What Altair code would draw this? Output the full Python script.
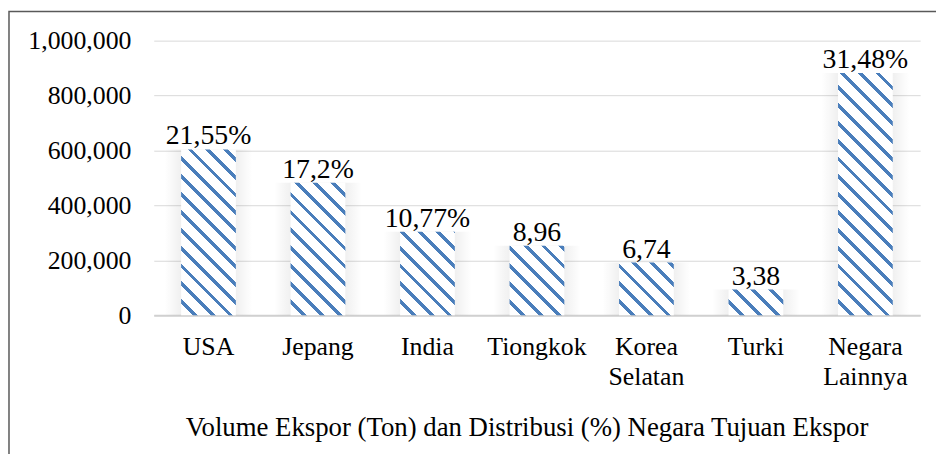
import altair as alt
import pandas as pd

# ---- data ----
countries = ["USA", "Jepang", "India", "Tiongkok", "Korea Selatan", "Turki", "Negara Lainnya"]
volumes = [604000, 483000, 304000, 253000, 192000, 94000, 882000]
labels = ["21,55%", "17,2%", "10,77%", "8,96", "6,74", "3,38", "31,48%"]
y_ticks = [0, 200000, 400000, 600000, 800000, 1000000]
x_title = "Volume Ekspor (Ton) dan Distribusi (%) Negara Tujuan Ekspor"

df = pd.DataFrame({"country": countries, "volume": volumes, "label": labels})

# ---- layout ----
W, H = 773, 277
PAD = {"left": 147, "top": 31, "right": 16, "bottom": 138}
FONT = "Times New Roman, Liberation Serif, serif"
BLUE = "#4a7ebb"
Y_MAX = 1000000

n = len(countries)
step = W / (n - 0.5 + 0.5)
bw = step * 0.5


def stripe_gradient(value):
    """Diagonal hatch as a hard-stop linear gradient in bbox units."""
    h = value / Y_MAX * H
    w = bw
    k = (w + h) / (w * w + h * h)
    x2 = k * w
    y2 = 1 - k * h
    period = 18.0 / (w + h)      # t-period for an 18px axis-aligned repeat
    blue = period * 0.27
    stops = []
    t = -period * 0.35
    while t < 1:
        a = max(t, 0.0)
        b = min(t + blue, 1.0)
        if b > 0:
            stops.append({"offset": a, "color": BLUE})
            stops.append({"offset": b, "color": BLUE})
            stops.append({"offset": b, "color": "#ffffff"})
        nxt = t + period
        stops.append({"offset": min(max(nxt, 0.0), 1.0), "color": "#ffffff"})
        t = nxt
    stops = [s for s in stops if 0 <= s["offset"] <= 1]
    return {"gradient": "linear", "x1": 0, "y1": 1, "x2": x2, "y2": y2, "stops": stops}


x_enc = alt.X(
    "country:N",
    sort=countries,
    scale=alt.Scale(domain=countries, paddingInner=0.5, paddingOuter=0.25),
    axis=alt.Axis(
        title=x_title,
        labelExpr="split(datum.label, ' ')",
        labelAngle=0,
        labelFont=FONT,
        labelFontSize=26,
        labelColor="#000000",
        labelLineHeight=30,
        labelPadding=19,
        labelBaseline="top",
        ticks=False,
        domainColor="#d0d0d0",
        domainWidth=2,
        titleFont=FONT,
        titleFontSize=27,
        titleFontWeight="normal",
        titleColor="#000000",
        titleX=376,
        titleY=121,
        titleAlign="center",
        titleBaseline="alphabetic",
        labelOverlap=False,
    ),
)
y_enc = alt.Y(
    "volume:Q",
    scale=alt.Scale(domain=[0, Y_MAX], nice=False),
    axis=alt.Axis(
        title=None,
        values=y_ticks,
        format=",d",
        labelFont=FONT,
        labelFontSize=26,
        labelColor="#000000",
        labelPadding=23,
        ticks=False,
        domain=False,
        grid=True,
        gridColor="#d9d9d9",
        gridWidth=1,
    ),
)

base = alt.Chart(df)

shadow_grad = {
    "gradient": "linear", "x1": 0, "y1": 0, "x2": 1, "y2": 0,
    "stops": [
        {"offset": 0, "color": "rgba(0,0,0,0)"},
        {"offset": 0.22, "color": "rgba(0,0,0,0.07)"},
        {"offset": 0.78, "color": "rgba(0,0,0,0.07)"},
        {"offset": 1, "color": "rgba(0,0,0,0)"},
    ],
}
shadow = base.mark_bar(fill=shadow_grad, width=alt.RelativeBandSize(1.6)).encode(x=x_enc, y=y_enc)

bars = []
for c, v in zip(countries, volumes):
    bars.append(
        base.transform_filter(alt.datum.country == c)
        .mark_bar(fill=stripe_gradient(v))
        .encode(x=x_enc, y=y_enc)
    )

text = base.mark_text(
    font=FONT, fontSize=28, color="#000000", baseline="alphabetic", dy=-5
).encode(x=x_enc, y=y_enc, text="label:N")

frame_df = pd.DataFrame({"k": [0]})
frame = alt.Chart(frame_df).mark_rect(
    fill=None, stroke="#595959", strokeWidth=1.5, clip=False
).encode(
    x=alt.value(-PAD["left"] + 1),
    x2=alt.value(W + PAD["right"] + 20),
    y=alt.value(-PAD["top"] + 1.5),
    y2=alt.value(H + PAD["bottom"] + 20),
)

chart = alt.layer(shadow, *bars, text, frame).properties(
    width=W, height=H, padding=PAD, autosize=alt.AutoSizeParams(type="none"),
    background="#ffffff",
).configure_view(stroke=None)

chart.save("out.html", embed_options={"renderer": "svg", "actions": False})
